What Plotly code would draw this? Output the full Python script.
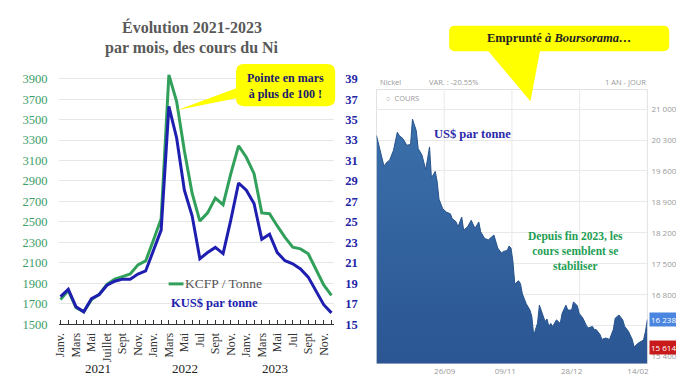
import plotly.graph_objects as go

W, H = 684, 385
def px(x): return x / W
def py(y): return 1 - y / H

# ---------------- Left chart data (monthly, Jan 2021 - Dec 2023) ----------------
month_idx = list(range(36))
month_labels = ["Janv.", "", "Mars", "", "Mai", "", "Juillet", "", "Sept", "", "Nov.", "",
                "Janv.", "", "Mars", "", "Mai", "", "Jul", "", "Sept", "", "Nov.", "",
                "Janv.", "", "Mars", "", "Mai", "", "Jul", "", "Sept", "", "Nov.", ""]
years = ["2021", "2022", "2023"]
year_pos = [4.9, 16.1, 27.7]

kcfp_tonne = [1740, 1830, 1660, 1620, 1740, 1790, 1890, 1940, 1965, 1990, 2080, 2118,
              2320, 2530, 3938, 3676, 3196, 2780, 2508, 2588, 2732, 2668, 2972, 3244,
              3132, 2972, 2588, 2580, 2460, 2348, 2252, 2236, 2188, 2028, 1884, 1782]
kusd_tonne = [17.7, 18.4, 16.7, 16.2, 17.5, 17.9, 18.8, 19.2, 19.4, 19.4, 19.9, 20.2,
              22.2, 24.2, 36.3, 33.2, 28.1, 25.6, 21.4, 22.0, 22.5, 21.9, 25.2, 28.8,
              28.1, 26.8, 23.3, 23.8, 22.0, 21.2, 20.9, 20.4, 19.6, 18.2, 16.9, 16.1]
left_ticks = list(range(1500, 4000, 200))
right_ticks = list(range(15, 40, 2))

# ---------------- Right chart data (Boursorama, daily sessions) ----------------
seance = [0, 2, 4, 5, 7, 9, 11, 12, 14, 16, 18, 19, 21, 22, 24, 26, 27, 28, 29, 31, 32, 33, 35,
          37, 39, 40, 42, 43, 45, 46, 48, 50, 52, 54, 55, 57, 59, 61, 62, 64, 66, 67, 69, 70,
          71, 72, 73, 75, 76, 77, 79, 81, 82, 83, 85, 86, 87, 89, 90, 91, 92, 93, 95, 97, 98,
          100, 101, 103, 104, 106, 107, 109, 111, 112, 114, 115, 116, 118, 119, 121, 123, 125,
          126, 128, 130, 131, 133, 135, 136, 138, 140, 141, 142, 143]
cours = [20402, 20070, 19700, 19775, 19850, 20070, 20475, 20402, 20330, 20180, 20200, 20772,
         20513, 20107, 19960, 19627, 19850, 20143, 19443, 19590, 19368, 18962, 18740, 18667,
         18630, 18520, 18450, 18335, 18557, 18262, 18330, 18483, 18300, 18446, 18225, 18077,
         18040, 18100, 18150, 17855, 17744, 17780, 17800, 17900, 17855, 17560, 17042, 17116,
         17050, 16820, 16599, 16452, 16304, 15880, 16156, 16563, 16450, 16193, 16250, 16083,
         16150, 16083, 16230, 16150, 16378, 16563, 16452, 16452, 16637, 16550, 16378, 16267,
         16083, 16050, 16083, 16010, 16010, 15899, 15788, 15820, 15788, 16010, 16267, 16341,
         16230, 16083, 15972, 15788, 15614, 15700, 15750, 15780, 15972, 16238]
price_ticks = [15400, 16100, 16800, 17500, 18200, 18900, 19600, 20300, 21000]
price_labels = ["15 400", "", "16 800", "17 500", "18 200", "18 900", "19 600", "20 300", "21 000"]
date_ticks = [36, 68, 103, 138]
date_labels = ["26/09", "09/11", "28/12", "14/02"]

SERIF = "Liberation Serif, Times New Roman, serif"
SANS = "Open Sans, Roboto, sans-serif"
GREEN = "#30a05a"
BLUE = "#1e1eb0"
YELLOW = "#ffff00"

fig = go.Figure()

fig.add_trace(go.Scatter(x=month_idx, y=kcfp_tonne, mode="lines", name="KCFP / Tonne",
                         line=dict(color=GREEN, width=3), xaxis="x", yaxis="y",
                         cliponaxis=False, showlegend=False))
fig.add_trace(go.Scatter(x=month_idx, y=kusd_tonne, mode="lines", name="KUS$ par tonne",
                         line=dict(color=BLUE, width=3), xaxis="x", yaxis="y3",
                         cliponaxis=False, showlegend=False))

ymin2, ymax2 = 15245, 21443
fig.add_trace(go.Scatter(x=seance, y=cours, mode="lines", fill="tozeroy",
                         line=dict(color="#27548c", width=1),
                         fillgradient=dict(type="vertical", start=ymin2, stop=max(cours),
                                           colorscale=[[0, "#2a5592"], [1, "#3b70aa"]]),
                         xaxis="x2", yaxis="y2", showlegend=False))

# left range mapping: 1500 at y=322, 3900 at y=72
ytop = 3980
dom_left = [py(322), py(322 - (ytop - 1500) * 250 / 2400)]

fig.update_layout(
    width=W, height=H, margin=dict(l=0, r=0, t=0, b=0),
    paper_bgcolor="white", plot_bgcolor="white",
    xaxis=dict(domain=[px(46), px(324)], range=[-0.25, 35.35],
               tickvals=month_idx, ticktext=month_labels, tickangle=-90,
               ticks="inside", ticklen=4, tickcolor="#333", tickwidth=1,
               showline=True, linecolor="#333", linewidth=1, showgrid=False, zeroline=False,
               tickfont=dict(family=SERIF, size=12, color="#333"), ticklabelstandoff=3,
               anchor="y"),
    yaxis=dict(domain=dom_left, range=[1500, ytop], tickvals=left_ticks,
               showgrid=True, gridcolor="#e6e6e6", gridwidth=1, zeroline=False,
               tickfont=dict(family=SERIF, size=12.5, color="#3a9e68"),
               ticklabelstandoff=10, anchor="x"),
    yaxis3=dict(domain=dom_left, range=[15, 15 + (ytop - 1500) / 100], tickvals=right_ticks,
                overlaying="y", side="right", showgrid=False, zeroline=False,
                tickfont=dict(family=SERIF, size=12.5, color="#2424a6", weight="bold"),
                ticklabelstandoff=10, anchor="x"),
    xaxis2=dict(domain=[px(366.7), px(640)], range=[0, 143], tickvals=date_ticks,
                ticktext=date_labels, showgrid=False, zeroline=False, showline=False,
                tickfont=dict(family=SANS, size=8, color="#999"), ticklabelstandoff=2,
                anchor="y2"),
    yaxis2=dict(domain=[py(362), py(83)], range=[ymin2, ymax2], tickvals=price_ticks,
                ticktext=price_labels, side="right", showgrid=True, gridcolor="#e9e9e9",
                zeroline=False, tickfont=dict(family=SANS, size=8, color="#999"),
                ticklabelstandoff=3, anchor="x2"),
)

shapes = []
# frame and vertical gridlines of the Boursorama panel
shapes.append(dict(type="rect", xref="x2 domain", yref="y2 domain", x0=0, x1=1, y0=0, y1=1,
                   line=dict(color="#e2e2e2", width=1), layer="below"))
for f in [0.25, 0.5, 0.75]:
    shapes.append(dict(type="line", xref="x2 domain", yref="y2 domain", x0=f, x1=f, y0=0, y1=1,
                       line=dict(color="#e9e9e9", width=1), layer="below"))

def rrect(x0, y0, x1, y1, r):
    pts = [
        f"M {px(x0 + r)},{py(y0)}", f"L {px(x1 - r)},{py(y0)}",
        f"Q {px(x1)},{py(y0)} {px(x1)},{py(y0 + r)}", f"L {px(x1)},{py(y1 - r)}",
        f"Q {px(x1)},{py(y1)} {px(x1 - r)},{py(y1)}", f"L {px(x0 + r)},{py(y1)}",
        f"Q {px(x0)},{py(y1)} {px(x0)},{py(y1 - r)}", f"L {px(x0)},{py(y0 + r)}",
        f"Q {px(x0)},{py(y0)} {px(x0 + r)},{py(y0)}", "Z"]
    return " ".join(pts)

def tri(a, b, c):
    return f"M {px(a[0])},{py(a[1])} L {px(b[0])},{py(b[1])} L {px(c[0])},{py(c[1])} Z"

for path in [rrect(225, 57, 325, 100, 8), tri((230, 80), (230, 91), (166, 104)),
             rrect(440, 18, 662, 44, 6), tri((478, 42), (532, 42), (522, 95))]:
    shapes.append(dict(type="path", xref="paper", yref="paper", path=path,
                       fillcolor=YELLOW, line=dict(width=0), layer="above"))
# short green line of the legend key
shapes.append(dict(type="line", xref="paper", yref="paper", x0=px(157), x1=px(172),
                   y0=py(281), y1=py(281), line=dict(color=GREEN, width=3)))
fig.update_layout(shapes=shapes)

ann = []
def A(x, y, text, size, color, family=SERIF, xanchor="center", **kw):
    ann.append(dict(x=px(x), y=py(y), xref="paper", yref="paper", text=text, showarrow=False,
                    xanchor=xanchor, yanchor="middle", font=dict(family=family, size=size, color=color), **kw))

A(181, 19, "<b>Évolution 2021-2023</b>", 16, "#595959")
A(181, 41, "<b>par mois, des cours du Ni</b>", 16, "#595959")
A(275, 79, "<b>Pointe en mars<br>à plus de 100 !</b>", 12, "#1a1a6e")
A(172, 281, "KCFP / Tonne", 13.5, "#555", xanchor="left")
A(157, 300, "<b>KUS$ par tonne</b>", 12.5, "#2222b0", xanchor="left")
for yr, xp in zip(years, year_pos):
    ann.append(dict(x=xp, y=py(367), xref="x", yref="paper", text=yr, showarrow=False,
                    xanchor="center", yanchor="middle", font=dict(family=SERIF, size=13, color="#222")))

A(551, 31, "<b>Emprunté <i>à Boursorama…</i></b>", 12.5, "#222")
A(368, 75, "Nickel", 7.5, "#999", family=SANS, xanchor="left")
A(418, 75, "VAR. : -20.55%", 7.5, "#999", family=SANS, xanchor="left")
A(641, 75, "1 AN - JOUR", 7.5, "#999", family=SANS, xanchor="right")
A(374, 92, "○  COURS", 7.5, "#999", family=SANS, xanchor="left")
A(464, 128, "<b>US$ par tonne</b>", 12.5, "#2a2aaa")
A(567, 248, "<b>Depuis fin 2023, les<br>cours semblent se<br>stabiliser</b>", 11.5, "#1e9e55")

# value markers on the price axis (last and minimum)
for val, bg in [(cours[-1], "#4a86e0"), (min(cours), "#c81a1a")]:
    ann.append(dict(x=px(642), y=val, xref="paper", yref="y2",
                    text=f"{val // 1000} {val % 1000:03d}", showarrow=False, xanchor="left",
                    yanchor="middle", bgcolor=bg, borderpad=1,
                    font=dict(family=SANS, size=8, color="white")))

fig.update_layout(annotations=ann)
fig.write_html("out.html")
